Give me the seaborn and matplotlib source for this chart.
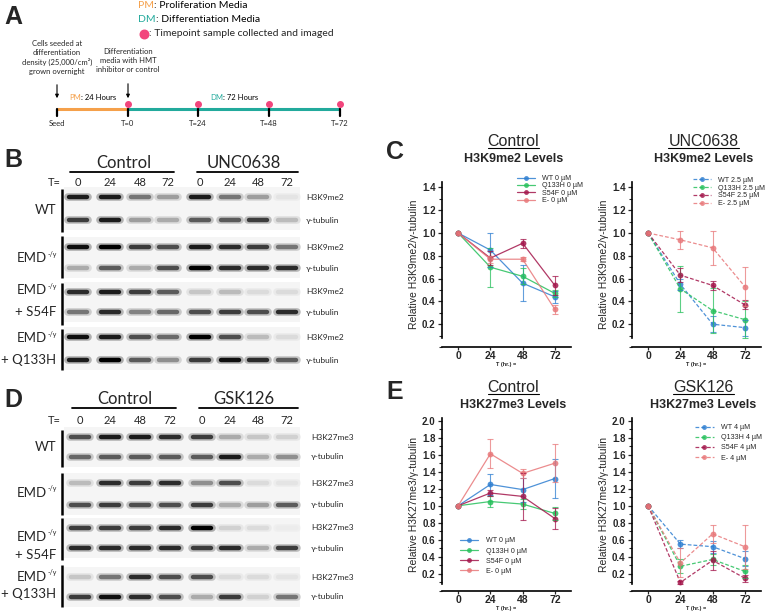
import matplotlib
matplotlib.use("Agg")
import numpy as np
import pandas as pd
import matplotlib.pyplot as plt
import seaborn as sns
from matplotlib.lines import Line2D
from matplotlib.patches import Rectangle
from matplotlib.ticker import MultipleLocator

sns.set_theme(style="ticks")
plt.rcParams["font.family"] = ["Liberation Sans", "DejaVu Sans"]
plt.rcParams["mathtext.default"] = "regular"

SOFT = ["Lato", "DejaVu Sans"]   # blot / timeline labels

# -------------------------------------------------------------------
# data
# -------------------------------------------------------------------
hours = [0, 24, 48, 72]
cell_lines = ["WT", "Q133H", "S54F", "E-"]
line_colors = ["#2f7fd1", "#27c05c", "#a3164b", "#e8787a"]

# C: relative H3K9me2 / γ-tubulin (mean, sem)
k9_ctrl_mean = {"WT": [1.0, 0.85, 0.56, 0.44], "Q133H": [1.0, 0.70, 0.62, 0.47],
                "S54F": [1.0, 0.78, 0.91, 0.54], "E-": [1.0, 0.77, 0.77, 0.33]}
k9_ctrl_err = {"WT": [0, 0.15, 0.16, 0.05], "Q133H": [0, 0.17, 0.07, 0.03],
               "S54F": [0, 0.06, 0.04, 0.08], "E-": [0, 0.03, 0.02, 0.04]}
k9_unc_mean = {"WT": [1.0, 0.55, 0.20, 0.17], "Q133H": [1.0, 0.51, 0.32, 0.24],
               "S54F": [1.0, 0.63, 0.54, 0.37], "E-": [1.0, 0.94, 0.87, 0.53]}
k9_unc_err = {"WT": [0, 0.05, 0.07, 0.07], "Q133H": [0, 0.20, 0.20, 0.16],
              "S54F": [0, 0.06, 0.04, 0.04], "E-": [0, 0.08, 0.15, 0.17]}

# E: relative H3K27me3 / γ-tubulin
k27_ctrl_mean = {"WT": [1.0, 1.25, 1.19, 1.32], "Q133H": [1.0, 1.05, 1.02, 0.91],
                 "S54F": [1.0, 1.15, 1.11, 0.85], "E-": [1.0, 1.61, 1.38, 1.50]}
k27_ctrl_err = {"WT": [0, 0.12, 0.14, 0.23], "Q133H": [0, 0.07, 0.06, 0.08],
                "S54F": [0, 0.03, 0.28, 0.12], "E-": [0, 0.17, 0.05, 0.22]}
k27_gsk_mean = {"WT": [1.0, 0.55, 0.52, 0.38], "Q133H": [1.0, 0.29, 0.37, 0.23],
                "S54F": [1.0, 0.10, 0.36, 0.15], "E-": [1.0, 0.33, 0.67, 0.52]}
k27_gsk_err = {"WT": [0, 0.05, 0.07, 0.09], "Q133H": [0, 0.08, 0.07, 0.08],
               "S54F": [0, 0.02, 0.11, 0.04], "E-": [0, 0.17, 0.11, 0.26]}

# blot band intensities (0 = empty, 1 = saturated); 8 lanes: control 0-72, drug 0-72
lane_labels = ["0", "24", "48", "72", "0", "24", "48", "72"]
k9_blot = [
    [0.90, 0.90, 0.60, 0.45, 0.90, 0.60, 0.45, 0.15],
    [0.80, 0.90, 0.45, 0.40, 0.70, 0.70, 0.80, 0.35],
    [0.95, 1.00, 0.80, 0.75, 0.90, 0.85, 0.80, 0.60],
    [0.40, 0.70, 0.40, 0.75, 1.00, 0.85, 0.85, 0.85],
    [0.85, 0.90, 0.80, 0.70, 0.30, 0.35, 0.20, 0.20],
    [0.60, 0.85, 0.55, 0.65, 0.75, 0.80, 0.75, 0.85],
    [0.95, 0.90, 0.75, 0.65, 1.00, 0.75, 0.35, 0.20],
    [0.90, 1.00, 0.70, 0.50, 0.80, 0.95, 0.85, 0.70],
]
k27_blot = [
    [0.75, 0.90, 0.90, 0.85, 0.80, 0.40, 0.30, 0.25],
    [0.65, 0.70, 0.70, 0.70, 0.70, 0.90, 0.40, 0.50],
    [0.35, 0.85, 0.80, 0.85, 0.50, 0.75, 0.20, 0.15],
    [0.75, 0.80, 0.75, 0.75, 0.80, 0.40, 0.45, 0.70],
    [0.80, 0.80, 0.80, 0.85, 1.00, 0.25, 0.20, 0.10],
    [0.85, 0.85, 0.85, 0.85, 0.80, 0.85, 0.40, 0.80],
    [0.30, 0.60, 0.85, 0.75, 0.75, 0.20, 0.20, 0.15],
    [0.80, 0.95, 0.85, 0.75, 0.40, 0.80, 0.25, 0.60],
]

timeline_marks = ["Seed", "T=0", "T=24", "T=48", "T=72"]

# -------------------------------------------------------------------
fig = plt.figure(figsize=(7.68, 6.14), dpi=100)
cv = fig.add_axes([0, 0, 1, 1])
cv.set_xlim(0, 768)
cv.set_ylim(614, 0)
cv.axis("off")
rend = fig.canvas.get_renderer()


def text_width(t):
    return t.get_window_extent(rend).width


def pair_text(x, y, head, tail, color, size):
    t = cv.text(x, y, head, color=color, fontsize=size, va="center", family=SOFT)
    cv.text(x + text_width(t), y, tail, color="black", fontsize=size, va="center", family=SOFT)


# panel letters
for letter, (lx, ly) in zip("ABCDE", [(4, 17), (4, 160), (386, 152), (4, 400), (386, 392)]):
    cv.text(lx, ly, letter, fontsize=18, fontweight="bold", va="center", ha="left")

# ---------------- A: timeline ----------------
pair_text(138, 6, "PM", ": Proliferation Media", "#f5a04a", 7.5)
pair_text(138, 20, "DM", ": Differentiation Media", "#22aa9c", 7.5)
cv.scatter([144], [34], s=38, color="#f2457c", zorder=3)
cv.text(149, 34, ": Timepoint sample collected and imaged", fontsize=7.5, va="center", family=SOFT)

tl_x = [57, 128, 198, 269, 340]
tl_y = 109
cv.plot(tl_x[:2], [tl_y, tl_y], color="#f5a04a", lw=2.2, solid_capstyle="butt")
cv.plot([tl_x[1], tl_x[-1]], [tl_y, tl_y], color="#22aa9c", lw=2.2, solid_capstyle="butt")
for x, lab in zip(tl_x, timeline_marks):
    cv.plot([x, x], [tl_y, tl_y + 7], color="black", lw=1.6)
    cv.text(x, tl_y + 15, lab, fontsize=5.5, ha="center", va="center", family=SOFT)
cv.scatter(tl_x[1:], [tl_y - 5] * 4, s=16, color="#f2457c", zorder=3)
pair_text(69, 98, "PM", ": 24 Hours", "#f5a04a", 5.5)
pair_text(210, 98, "DM", ": 72 Hours", "#22aa9c", 5.5)
cv.text(57, 40, "Cells seeded at\ndifferentiation\ndensity (25,000/cm²)\ngrown overnight",
        fontsize=5.5, ha="center", va="top", linespacing=1.3, family=SOFT)
cv.text(128, 48, "Differentiation\nmedia with HMT\ninhibitor or control",
        fontsize=5.5, ha="center", va="top", linespacing=1.3, family=SOFT)
for x, y0 in [(57, 82), (128, 81)]:
    cv.annotate("", xy=(x, 101), xytext=(x, y0),
                arrowprops=dict(arrowstyle="-|>", color="black", lw=0.8, mutation_scale=5))


# ---------------- B / D: western blots ----------------
def draw_blot(bands, lane_x, row_y, bars, mark, head_y, header_l, header_r, top_y, lab_x):
    # headers
    cv.text(np.mean(lane_x[:4]), head_y, header_l, fontsize=12, ha="center", va="center", family=SOFT)
    cv.text(np.mean(lane_x[4:]), head_y, header_r, fontsize=12, ha="center", va="center", family=SOFT)
    cv.plot([lane_x[0] - 8, lane_x[3] + 6], [head_y + 9, head_y + 9], color="black", lw=1.3)
    cv.plot([lane_x[4] - 3, lane_x[7] + 11], [head_y + 9, head_y + 9], color="black", lw=1.3)
    cv.text(61, top_y, "T=", fontsize=8, ha="right", va="center", family=SOFT)
    for x, lab in zip(lane_x, lane_labels):
        cv.text(x, top_y, lab, fontsize=8, ha="center", va="center", family=SOFT)
    # strips and bands
    for g in range(4):
        y1, y2 = row_y[2 * g], row_y[2 * g + 1]
        cv.add_patch(Rectangle((64, y1 - 10), 236, y2 - y1 + 20, color="#f5f5f5", lw=0, zorder=0))
        cv.plot([62, 62], bars[g], color="black", lw=1.8, solid_capstyle="butt")
    for r, (y, row) in enumerate(zip(row_y, bands)):
        for x, v in zip(lane_x, row):
            cv.plot([x - 10, x + 10], [y, y], color=plt.cm.Greys(0.1 + 0.9 * v), lw=5.5,
                    alpha=0.3, solid_capstyle="round", zorder=1)
            cv.plot([x - 9, x + 9], [y, y], color=plt.cm.Greys(0.05 + 0.95 * v), lw=3.2,
                    solid_capstyle="round", zorder=2)
        cv.text(lab_x, y, mark if r % 2 == 0 else "γ-tubulin", fontsize=6, va="center", family=SOFT)


def emd_label(y):
    cv.text(47, y, "EMD", fontsize=9.5, ha="right", va="center", family=SOFT)
    cv.text(47.5, y - 4, "-/y", fontsize=5, ha="left", va="center", family=SOFT)


def group_labels(ys):
    cv.text(56, ys[0], "WT", fontsize=9.5, ha="right", va="center", family=SOFT)
    for y in (ys[1], ys[2], ys[4]):
        emd_label(y)
    cv.text(56, ys[3], "+ S54F", fontsize=9.5, ha="right", va="center", family=SOFT)
    cv.text(56, ys[5], "+ Q133H", fontsize=9.5, ha="right", va="center", family=SOFT)


draw_blot(k9_blot, [78, 110, 140, 168, 200, 230, 258, 287],
          [197, 220, 247, 268, 292, 312, 337, 360],
          [(189, 232), (236, 278), (283, 325), (329, 370)],
          "H3K9me2", 163, "Control", "UNC0638", 182, 306)
group_labels([210, 258, 290, 312, 338, 360])

draw_blot(k27_blot, [80, 110, 140, 170, 202, 230, 258, 287],
          [437, 457, 483, 505, 528, 548, 577, 597],
          [(430, 467), (473, 515), (518, 560), (565, 607)],
          "H3K27me3", 399, "Control", "GSK126", 421, 311)
group_labels([447, 493, 537, 555, 577, 594])


# ---------------- C / E: line charts ----------------
def draw_trend(box, means, errs, dose, dashed, y_top, ylabel, leg_anchor, leg_space, title, subtitle):
    l, b, w, h = box
    ax = fig.add_axes([l / 768, 1 - b / 614, w / 768, h / 614])
    ax.patch.set_alpha(0)
    rows = []
    for name in cell_lines:
        for hr, m, e in zip(hours, means[name], errs[name]):
            rows.append({"hour": hr, "value": m, "err": e, "line": f"{name} {dose} µM"})
    df = pd.DataFrame(rows)
    labels = list(df["line"].unique())
    pal = dict(zip(labels, line_colors))
    ls = (0, (3, 1.6)) if dashed else "-"
    sns.lineplot(data=df, x="hour", y="value", hue="line", palette=pal, hue_order=labels,
                 marker="o", markersize=4.2, markeredgewidth=0, linewidth=0.9,
                 linestyle=ls, alpha=0.85, errorbar=None, legend=False, ax=ax)
    for lab in labels:
        sub = df[(df["line"] == lab) & (df["err"] > 0)]
        ax.errorbar(sub["hour"], sub["value"], yerr=sub["err"], fmt="none", ecolor=pal[lab],
                    elinewidth=0.8, capsize=2.2, capthick=0.8, alpha=0.75)
    ax.set_xlim(-12, 84)
    ax.set_ylim(0, y_top)
    ax.set_xticks(hours)
    ax.set_xticklabels([str(hr) for hr in hours], fontsize=7.5, fontweight="bold")
    ax.yaxis.set_minor_locator(MultipleLocator(0.1))
    ticks = [v / 10 for v in range(2, int(round(y_top * 10)) + 1, 2)]
    ax.set_yticks(ticks)
    ax.set_yticklabels([f"{v:.1f}" for v in ticks], fontsize=7, fontweight="bold")
    ax.tick_params(axis="y", which="major", direction="out", length=3, width=0.9, pad=1.5)
    ax.tick_params(axis="x", which="major", direction="out", length=2, width=0.9, pad=0.8)
    ax.tick_params(axis="y", which="minor", direction="out", length=2, width=0.8)
    ax.set_xlabel("T (hr.) =", fontsize=4, fontweight="bold", labelpad=0.5)
    ax.set_ylabel(ylabel, fontsize=7.5, labelpad=2)
    sns.despine(ax=ax)
    for sp in ("left", "bottom"):
        ax.spines[sp].set_linewidth(1.2)
        ax.spines[sp].set_color("black")
    ax.spines["left"].set_bounds(0.08, y_top)
    handles = [Line2D([0], [0], color=c, lw=0.9, linestyle=ls, marker="o", markersize=3.5,
                      markeredgewidth=0, alpha=0.85) for c in line_colors]
    ax.legend(handles, labels, loc="upper left", bbox_to_anchor=leg_anchor, frameon=False,
              fontsize=5.1, handlelength=2.6, handletextpad=1.0, labelspacing=leg_space,
              borderpad=0, borderaxespad=0)
    cx = l + w / 2 + 7
    t = cv.text(cx, title[1], title[0], fontsize=11.5, ha="center", va="center")
    tw = text_width(t)
    cv.plot([cx - tw / 2, cx + tw / 2], [title[1] + 7, title[1] + 7], color="black", lw=0.8)
    cv.text(cx, subtitle[1], subtitle[0], fontsize=9, fontweight="bold", ha="center", va="center")
    return ax


k9_label = "Relative H3K9me2/γ-tubulin"
k27_label = "Relative H3K27me3/γ-tubulin"
draw_trend((442, 347, 129, 165.3), k9_ctrl_mean, k9_ctrl_err, 0, False, 1.45, k9_label,
           (0.58, 1.04), 0.05, ("Control", 141), ("H3K9me2 Levels", 159))
draw_trend((632, 347, 129, 165.3), k9_unc_mean, k9_unc_err, 2.5, True, 1.45, k9_label,
           (0.47, 1.03), 0.12, ("UNC0638", 141), ("H3K9me2 Levels", 159))
draw_trend((442, 591, 129, 173), k27_ctrl_mean, k27_ctrl_err, 0, False, 2.03, k27_label,
           (0.14, 0.31), 0.45, ("Control", 387), ("H3K27me3 Levels", 405))
draw_trend((632, 591, 129, 173), k27_gsk_mean, k27_gsk_err, 4, True, 2.03, k27_label,
           (0.49, 0.965), 0.45, ("GSK126", 387), ("H3K27me3 Levels", 405))

fig.savefig("out.png", dpi=100)
